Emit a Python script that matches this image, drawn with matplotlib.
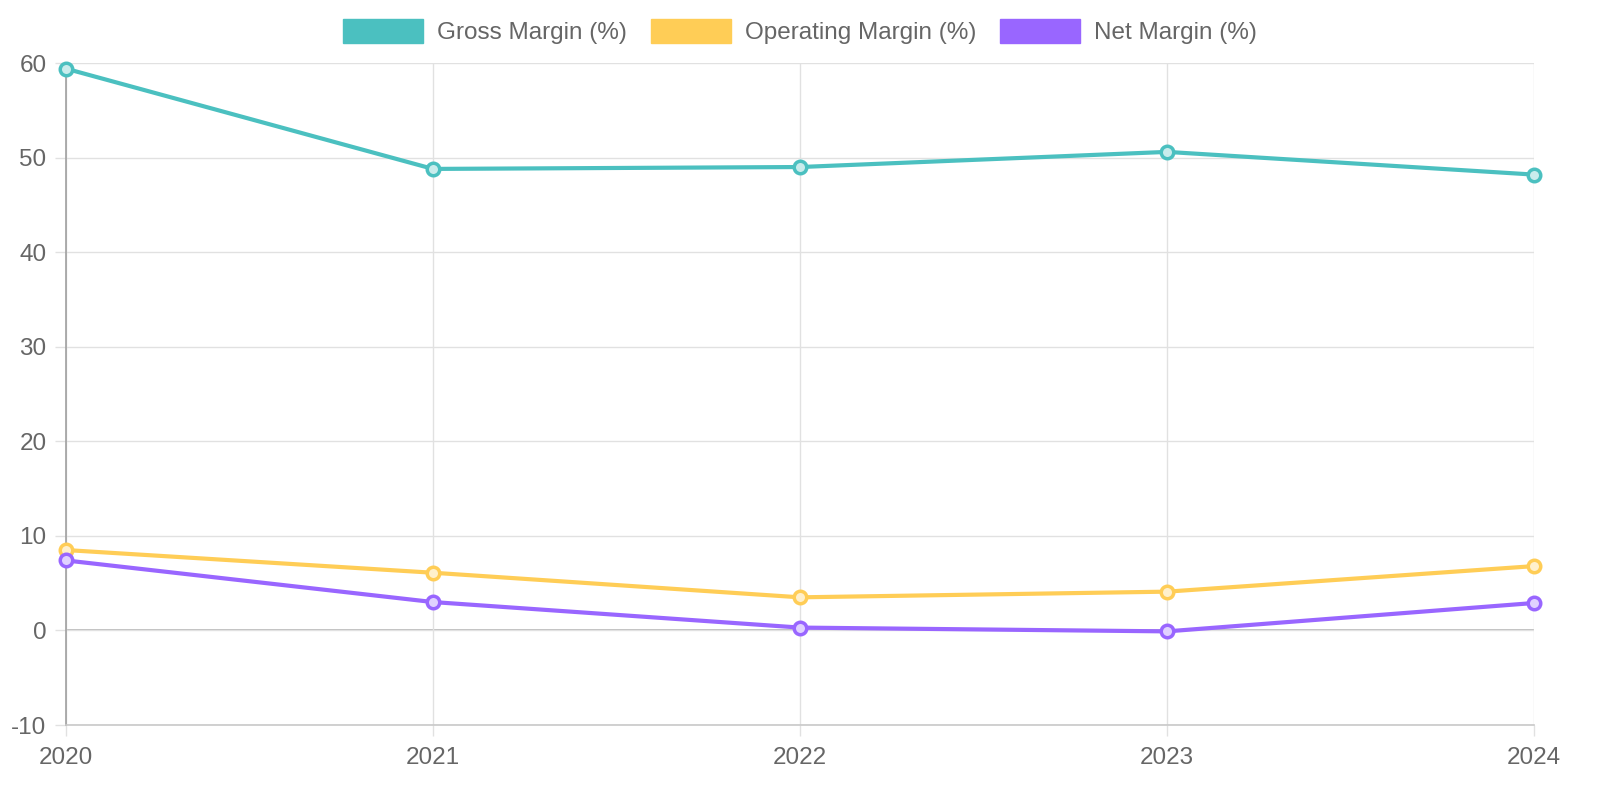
import matplotlib
matplotlib.use("Agg")
import matplotlib.pyplot as plt
from matplotlib.patches import Patch

plt.rcParams['font.family'] = ['Liberation Sans', 'DejaVu Sans']
plt.rcParams['axes.unicode_minus'] = False

years = ["2020", "2021", "2022", "2023", "2024"]
gross = [59.4, 48.8, 49.0, 50.6, 48.2]
operating = [8.5, 6.1, 3.5, 4.1, 6.8]
net = [7.4, 3.0, 0.3, -0.1, 2.9]
series_names = ["Gross Margin (%)", "Operating Margin (%)", "Net Margin (%)"]
colors = ["#4BC0C0", "#FFCD56", "#9966FF"]
fills = ["#c9ecec", "#fff0cc", "#e0d1ff"]

fig = plt.figure(figsize=(16, 8), dpi=100)
ax = fig.add_axes([66/1600, 1 - 725/800, (1534-66)/1600, (725-63)/800])

x = list(range(len(years)))
for vals, c, f in zip([gross, operating, net], colors, fills):
    ax.plot(x, vals, color=c, lw=3, marker='o', ms=9, mfc=f, mec=c, mew=2.5,
            zorder=3, clip_on=False)

ax.set_xlim(0, 4)
ax.set_ylim(-10, 60)
ax.set_yticks(range(-10, 61, 10))
ax.set_xticks(x)
ax.set_xticklabels(years)
ax.grid(True, color="#e1e1e1", lw=1)
ax.axhline(0, color="#b0b0b0", lw=1.2, zorder=1)
for s in ["top", "right"]:
    ax.spines[s].set_visible(False)
ax.spines["left"].set_color("#a0a0a0")
ax.spines["left"].set_linewidth(1.2)
ax.spines["bottom"].set_color("#c8c8c8")
ax.spines["bottom"].set_linewidth(1.2)
ax.tick_params(axis='both', colors="#e1e1e1", labelcolor="#666666", labelsize=17.5, length=8, width=1)
ax.tick_params(axis='y', pad=6)
ax.tick_params(axis='x', pad=8)

handles = [Patch(facecolor=c, edgecolor=c) for c in colors]
leg = fig.legend(handles, series_names, loc='upper center', bbox_to_anchor=(0.5, 1 - 12/800),
                 ncol=3, frameon=False, fontsize=17.5, handlelength=3.3, handleheight=1.1,
                 columnspacing=1.0, handletextpad=0.55, borderaxespad=0.0, borderpad=0.3)
for t in leg.get_texts():
    t.set_color("#666666")

fig.savefig("out.png", dpi=100)
